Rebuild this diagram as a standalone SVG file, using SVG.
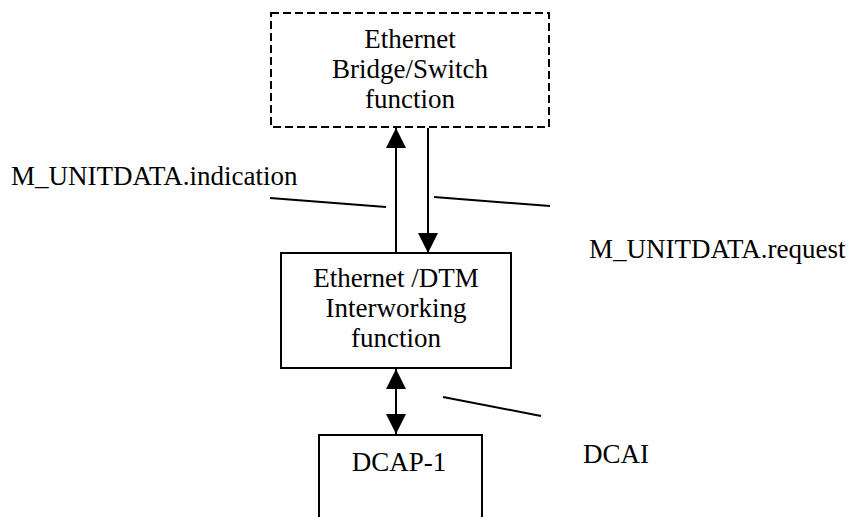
<svg xmlns="http://www.w3.org/2000/svg" width="850" height="517" viewBox="0 0 850 517">
<style>
text{font-family:"Liberation Serif","Times New Roman",serif;font-size:27px;fill:#000}
.box{fill:#fff;stroke:#000;stroke-width:2}
.dash{fill:#fff;stroke:#000;stroke-width:2;stroke-dasharray:8 4}
.ln{stroke:#000;stroke-width:2;fill:none}
.mid{text-anchor:middle}
</style>
<defs>
<marker id="ah" viewBox="0 0 20 20" refX="20" refY="10" markerWidth="20" markerHeight="20" markerUnits="userSpaceOnUse" orient="auto-start-reverse">
<path d="M0,0 L20,10 L0,20 Z" fill="#000"/>
</marker>
</defs>
<rect width="850" height="517" fill="#fff"/>
<g id="bridge">
<rect class="dash" x="271" y="13" width="278" height="114"/>
<text class="mid" x="410" y="48">Ethernet</text>
<text class="mid" x="410" y="78">Bridge/Switch</text>
<text class="mid" x="410" y="108">function</text>
</g>
<g id="iwf">
<rect class="box" x="281" y="253" width="230" height="115"/>
<text class="mid" x="396" y="287">Ethernet /DTM</text>
<text class="mid" x="396" y="317">Interworking</text>
<text class="mid" x="396" y="347">function</text>
</g>
<g id="dcap">
<path class="box" d="M319,519 L319,435 L482,435 L482,519"/>
<text class="mid" x="399" y="471">DCAP-1</text>
</g>
<g id="labels">
<text x="11" y="185">M_UNITDATA.indication</text>
<text x="589" y="258">M_UNITDATA.request</text>
<text x="583" y="463">DCAI</text>
</g>
<g id="connectors">
<line class="ln" x1="396" y1="253" x2="396" y2="128" marker-end="url(#ah)"/>
<line class="ln" x1="428" y1="128" x2="428" y2="253" marker-end="url(#ah)"/>
<line class="ln" x1="396" y1="369" x2="396" y2="434" marker-start="url(#ah)" marker-end="url(#ah)"/>
<line class="ln" x1="270" y1="198" x2="386" y2="207"/>
<line class="ln" x1="434" y1="197" x2="550" y2="206"/>
<line class="ln" x1="443" y1="397" x2="541" y2="416"/>
</g>
</svg>
